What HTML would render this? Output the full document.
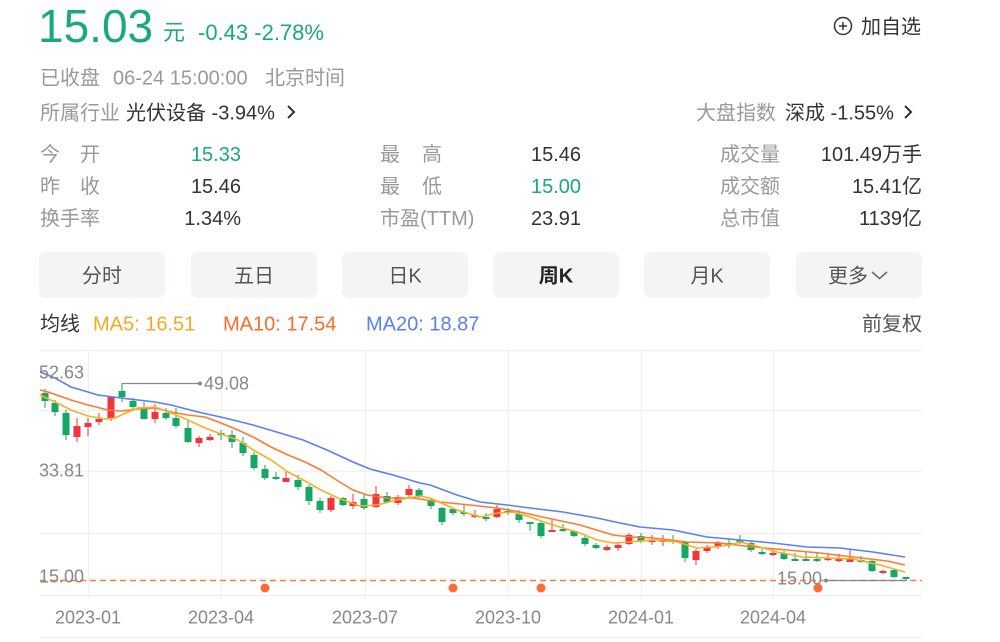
<!DOCTYPE html>
<html><head><meta charset="utf-8"><style>
html,body{margin:0;padding:0;background:#fff;width:1000px;height:642px;overflow:hidden}
svg{position:absolute;left:0;top:0}
text{font-family:"Liberation Sans","Noto Sans CJK SC",sans-serif}
.g{fill:#999}.d{fill:#333}.gr{fill:#19a97b}.ax{fill:#888;font-size:18px}
.b{fill:#555;font-size:20px}
</style></head><body>
<svg width="1000" height="642" viewBox="0 0 1000 642">
<!-- header -->
<text x="38" y="42" font-size="46" class="gr">15.03</text>
<text x="163" y="40" font-size="22" class="gr">元</text>
<text x="198" y="40" font-size="22" class="gr">-0.43 -2.78%</text>
<circle cx="843" cy="26" r="8.5" fill="none" stroke="#333" stroke-width="1.5"/>
<path d="M839 26h8M843 22v8" stroke="#333" stroke-width="1.5"/>
<text x="861" y="33.5" font-size="20" class="d">加自选</text>

<g font-size="20">
<text x="40" y="84.5" class="g">已收盘</text>
<text x="113" y="84.5" class="g">06-24 15:00:00</text>
<text x="265" y="84.5" class="g">北京时间</text>
<text x="40" y="119.5" class="g">所属行业</text>
<text x="126" y="119.5" class="d">光伏设备 -3.94%</text>
<path d="M288 106l6 6-6 6" fill="none" stroke="#333" stroke-width="2"/>
<text x="696" y="119.5" class="g">大盘指数</text>
<text x="785" y="119.5" class="d">深成 -1.55%</text>
<path d="M905 106l6 6-6 6" fill="none" stroke="#333" stroke-width="2"/>

<text x="40" y="161" class="g">今</text><text x="80" y="161" class="g">开</text>
<text x="40" y="193" class="g">昨</text><text x="80" y="193" class="g">收</text>
<text x="40" y="225" class="g">换手率</text>
<text x="241" y="161" class="gr" text-anchor="end">15.33</text>
<text x="241" y="193" class="d" text-anchor="end">15.46</text>
<text x="241" y="225" class="d" text-anchor="end">1.34%</text>

<text x="380" y="161" class="g">最</text><text x="422" y="161" class="g">高</text>
<text x="380" y="193" class="g">最</text><text x="422" y="193" class="g">低</text>
<text x="380" y="225" class="g">市盈(TTM)</text>
<text x="531" y="161" class="d">15.46</text>
<text x="531" y="193" class="gr">15.00</text>
<text x="531" y="225" class="d">23.91</text>

<text x="720" y="161" class="g">成交量</text>
<text x="720" y="193" class="g">成交额</text>
<text x="720" y="225" class="g">总市值</text>
<text x="922" y="161" class="d" text-anchor="end">101.49万手</text>
<text x="922" y="193" class="d" text-anchor="end">15.41亿</text>
<text x="922" y="225" class="d" text-anchor="end">1139亿</text>
</g>

<!-- buttons -->
<g fill="#f3f4f6">
<rect x="39" y="252" width="126" height="46" rx="7"/>
<rect x="191" y="252" width="126" height="46" rx="7"/>
<rect x="342" y="252" width="126" height="46" rx="7"/>
<rect x="493" y="252" width="126" height="46" rx="7"/>
<rect x="644" y="252" width="126" height="46" rx="7"/>
<rect x="796" y="252" width="126" height="46" rx="7"/>
</g>
<g text-anchor="middle">
<text x="102" y="282.5" class="b">分时</text>
<text x="254" y="282.5" class="b">五日</text>
<text x="405" y="282.5" class="b">日K</text>
<text x="556" y="282.5" font-size="20" font-weight="bold" fill="#222">周K</text>
<text x="707" y="282.5" class="b">月K</text>
</g>
<text x="828" y="282.5" class="b">更多</text>
<path d="M872 272l7.5 6.5 7.5-6.5" fill="none" stroke="#666" stroke-width="1.5"/>

<!-- legend -->
<g font-size="20">
<text x="40" y="330.5" fill="#333">均线</text>
<text x="93" y="330.5" fill="#f7a823">MA5: 16.51</text>
<text x="223" y="330.5" fill="#ff6a2a">MA10: 17.54</text>
<text x="366" y="330.5" fill="#5b7ff5">MA20: 18.87</text>
<text x="922" y="330.5" fill="#555" text-anchor="end">前复权</text>
</g>

<!-- grid -->
<g stroke="#f0f0f0" stroke-width="1.2">
<path d="M40 350.5H922M40 410.5H922M40 471.5H922M40 533.5H922M40 595.5H922M40 637.5H922"/>
<path d="M88.5 350V598M221.5 350V598M365.5 350V598M508.5 350V598M641.5 350V598M773.5 350V598"/>
</g>

<!-- candles green -->
<g fill="#14a865">
<rect x="44.5" y="389" width="1" height="19"/><rect x="41.5" y="393" width="7" height="8"/>
<rect x="54.5" y="400" width="1" height="16"/><rect x="51.5" y="403" width="7" height="9"/>
<rect x="65.5" y="410" width="1" height="30"/><rect x="62.5" y="413" width="7" height="22"/>
<rect x="121.5" y="383" width="1" height="19"/><rect x="118.5" y="391" width="7" height="6"/>
<rect x="132.5" y="398" width="1" height="12"/><rect x="129.5" y="401" width="7" height="6"/>
<rect x="143.5" y="402" width="1" height="17"/><rect x="140.5" y="408" width="7" height="11"/>
<rect x="165.5" y="408" width="1" height="12"/><rect x="162.5" y="413" width="7" height="5"/>
<rect x="175.5" y="408" width="1" height="20"/><rect x="172.5" y="418" width="7" height="8"/>
<rect x="187.5" y="420" width="1" height="23"/><rect x="184.5" y="428" width="7" height="14"/>
<rect x="220.5" y="430" width="1" height="10"/><rect x="217.5" y="433" width="7" height="2"/>
<rect x="231.5" y="430" width="1" height="18"/><rect x="228.5" y="435" width="7" height="7"/>
<rect x="242.5" y="437" width="1" height="19"/><rect x="239.5" y="443" width="7" height="10"/>
<rect x="253.5" y="452" width="1" height="18"/><rect x="250.5" y="455" width="7" height="13"/>
<rect x="264.5" y="465" width="1" height="15"/><rect x="261.5" y="469" width="7" height="9"/>
<rect x="275.5" y="472" width="1" height="8"/><rect x="272.5" y="477" width="7" height="2"/>
<rect x="297.5" y="475" width="1" height="15"/><rect x="294.5" y="480" width="7" height="7"/>
<rect x="308.5" y="485" width="1" height="20"/><rect x="305.5" y="487" width="7" height="14"/>
<rect x="319.5" y="498" width="1" height="15"/><rect x="316.5" y="501" width="7" height="9"/>
<rect x="342.5" y="497" width="1" height="9"/><rect x="339.5" y="498" width="7" height="7"/>
<rect x="363.5" y="495" width="1" height="15"/><rect x="360.5" y="499" width="7" height="9"/>
<rect x="386.5" y="492" width="1" height="11"/><rect x="383.5" y="496" width="7" height="6"/>
<rect x="418.5" y="488" width="1" height="10"/><rect x="415.5" y="490" width="7" height="6"/>
<rect x="430.5" y="498" width="1" height="11"/><rect x="427.5" y="501" width="7" height="5"/>
<rect x="441.5" y="507" width="1" height="18"/><rect x="438.5" y="508" width="7" height="14"/>
<rect x="452.5" y="508" width="1" height="7"/><rect x="449.5" y="509" width="7" height="4"/>
<rect x="463.5" y="504" width="1" height="12"/><rect x="460.5" y="512" width="7" height="2"/>
<rect x="485.5" y="513" width="1" height="8"/><rect x="482.5" y="517" width="7" height="2"/>
<rect x="507.5" y="508" width="1" height="7"/><rect x="504.5" y="511" width="7" height="2"/>
<rect x="518.5" y="510" width="1" height="13"/><rect x="515.5" y="514" width="7" height="6"/>
<rect x="529.5" y="522" width="1" height="9"/><rect x="526.5" y="522" width="7" height="2"/>
<rect x="540.5" y="520" width="1" height="18"/><rect x="537.5" y="523" width="7" height="13"/>
<rect x="562.5" y="524" width="1" height="8"/><rect x="559.5" y="529" width="7" height="2"/>
<rect x="573.5" y="530" width="1" height="7"/><rect x="570.5" y="531" width="7" height="5"/>
<rect x="584.5" y="536" width="1" height="10"/><rect x="581.5" y="538" width="7" height="6"/>
<rect x="595.5" y="543" width="1" height="6"/><rect x="592.5" y="545" width="7" height="3"/>
<rect x="640.5" y="533" width="1" height="10"/><rect x="637.5" y="536" width="7" height="5"/>
<rect x="672.5" y="535" width="1" height="9"/><rect x="669.5" y="540" width="7" height="2"/>
<rect x="684.5" y="541" width="1" height="21"/><rect x="681.5" y="542" width="7" height="16"/>
<rect x="728.5" y="538" width="1" height="10"/><rect x="725.5" y="543" width="7" height="2"/>
<rect x="739.5" y="535" width="1" height="9"/><rect x="736.5" y="540" width="7" height="3"/>
<rect x="750.5" y="541" width="1" height="11"/><rect x="747.5" y="543" width="7" height="7"/>
<rect x="761.5" y="549" width="1" height="6"/><rect x="758.5" y="552" width="7" height="2"/>
<rect x="783.5" y="551" width="1" height="9"/><rect x="780.5" y="553" width="7" height="6"/>
<rect x="794.5" y="553" width="1" height="8"/><rect x="791.5" y="559" width="7" height="2"/>
<rect x="805.5" y="552" width="1" height="9"/><rect x="802.5" y="559" width="7" height="2"/>
<rect x="816.5" y="553" width="1" height="9"/><rect x="813.5" y="559" width="7" height="2"/>
<rect x="860.5" y="556" width="1" height="7"/><rect x="857.5" y="560" width="7" height="2"/>
<rect x="871.5" y="559" width="1" height="13"/><rect x="868.5" y="561" width="7" height="10"/>
<rect x="893.5" y="569" width="1" height="9"/><rect x="890.5" y="570" width="7" height="7"/>
<rect x="905.5" y="577" width="1" height="3"/><rect x="902.5" y="577" width="7" height="2"/>
</g>
<!-- candles red -->
<g fill="#f5333b">
<rect x="76.5" y="418" width="1" height="24"/><rect x="73.5" y="426" width="7" height="11"/>
<rect x="87.5" y="418" width="1" height="18"/><rect x="84.5" y="423" width="7" height="4"/>
<rect x="98.5" y="413" width="1" height="12"/><rect x="95.5" y="419" width="7" height="3"/>
<rect x="110.5" y="396" width="1" height="25"/><rect x="107.5" y="397" width="7" height="21"/>
<rect x="154.5" y="404" width="1" height="19"/><rect x="151.5" y="412" width="7" height="7"/>
<rect x="198.5" y="436" width="1" height="11"/><rect x="195.5" y="438" width="7" height="5"/>
<rect x="209.5" y="434" width="1" height="7"/><rect x="206.5" y="437" width="7" height="3"/>
<rect x="285.5" y="472" width="1" height="10"/><rect x="282.5" y="478" width="7" height="4"/>
<rect x="330.5" y="496" width="1" height="16"/><rect x="327.5" y="498" width="7" height="12"/>
<rect x="352.5" y="494" width="1" height="15"/><rect x="349.5" y="502" width="7" height="4"/>
<rect x="375.5" y="486" width="1" height="22"/><rect x="372.5" y="494" width="7" height="13"/>
<rect x="397.5" y="495" width="1" height="10"/><rect x="394.5" y="497" width="7" height="6"/>
<rect x="408.5" y="485" width="1" height="12"/><rect x="405.5" y="489" width="7" height="6"/>
<rect x="474.5" y="510" width="1" height="8"/><rect x="471.5" y="515" width="7" height="2"/>
<rect x="496.5" y="505" width="1" height="13"/><rect x="493.5" y="509" width="7" height="8"/>
<rect x="551.5" y="520" width="1" height="12"/><rect x="548.5" y="530" width="7" height="2"/>
<rect x="606.5" y="545" width="1" height="6"/><rect x="603.5" y="547" width="7" height="3"/>
<rect x="617.5" y="542" width="1" height="9"/><rect x="614.5" y="545" width="7" height="3"/>
<rect x="628.5" y="533" width="1" height="12"/><rect x="625.5" y="535" width="7" height="9"/>
<rect x="651.5" y="535" width="1" height="10"/><rect x="648.5" y="540" width="7" height="2"/>
<rect x="662.5" y="535" width="1" height="11"/><rect x="659.5" y="540" width="7" height="2"/>
<rect x="695.5" y="549" width="1" height="16"/><rect x="692.5" y="551" width="7" height="9"/>
<rect x="706.5" y="545" width="1" height="8"/><rect x="703.5" y="547" width="7" height="4"/>
<rect x="717.5" y="541" width="1" height="8"/><rect x="714.5" y="543" width="7" height="4"/>
<rect x="772.5" y="551" width="1" height="5"/><rect x="769.5" y="553" width="7" height="2"/>
<rect x="827.5" y="553" width="1" height="8"/><rect x="824.5" y="558" width="7" height="2"/>
<rect x="838.5" y="554" width="1" height="8"/><rect x="835.5" y="559" width="7" height="2"/>
<rect x="849.5" y="550" width="1" height="12"/><rect x="846.5" y="558" width="7" height="4"/>
<rect x="882.5" y="570" width="1" height="4"/><rect x="879.5" y="571" width="7" height="2"/>
</g>

<!-- MA lines -->
<g fill="none" stroke-width="1.6" stroke-linejoin="round">
<polyline stroke="#5b7ff5" points="40,372 55,378 71,387 88,392 98,395 121,398 155,402 171,405 198,412 225,418 253,425 280,433 303,440 327,450 353,462 370,469 393,475 420,483 430,485 457,495 480,502 507,505 530,508 563,512 597,518 620,523 640,527 673,530 707,537 740,540 773,543 807,547 840,548 873,552 905,557"/>
<polyline stroke="#ff7a2f" points="40,390 48,392 71,400 88,405 108,410 121,411 138,409 155,408 171,412 188,415 205,417 221,423 238,430 255,438 271,447 288,455 305,462 321,470 338,481 353,490 367,495 387,498 413,498 440,502 470,505 497,508 520,512 547,518 580,525 613,535 630,537 653,538 687,542 720,543 753,547 787,550 820,553 853,557 887,561 905,565"/>
<polyline stroke="#f7b026" points="40,395 55,402 71,410 88,416 105,419 115,418 128,412 138,408 155,407 171,413 188,420 205,428 221,434 238,440 255,451 271,460 288,472 305,481 321,490 338,498 360,506 377,505 397,500 420,496 430,498 457,510 480,517 497,513 513,512 530,517 547,523 563,528 580,533 597,540 613,543 630,542 653,540 677,542 697,548 713,547 730,545 740,542 753,545 777,552 803,557 827,558 853,559 880,565 905,572"/>
</g>

<!-- min line -->
<path d="M40 580.5H922" stroke="#ff7d3b" stroke-width="1.5" stroke-dasharray="6 4"/>
<g fill="#ff6b35">
<circle cx="265" cy="588" r="4.5"/>
<circle cx="453" cy="588" r="4.5"/>
<circle cx="541" cy="588" r="4.5"/>
<circle cx="818" cy="588" r="4.5"/>
</g>

<!-- annotations -->
<path d="M122 383.5H200M826 580.5H907" stroke="#888" stroke-width="1.2"/>
<circle cx="200" cy="383.5" r="2" fill="#888"/>
<circle cx="826" cy="580.5" r="2" fill="#888"/>
<text x="204" y="389.5" class="ax">49.08</text>
<text x="777" y="584.5" class="ax">15.00</text>

<text x="39" y="378.5" class="ax">52.63</text>
<text x="39" y="476.5" class="ax">33.81</text>
<text x="39" y="582.5" class="ax">15.00</text>

<g text-anchor="middle">
<text x="88" y="623.5" class="ax">2023-01</text>
<text x="221" y="623.5" class="ax">2023-04</text>
<text x="365" y="623.5" class="ax">2023-07</text>
<text x="508" y="623.5" class="ax">2023-10</text>
<text x="641" y="623.5" class="ax">2024-01</text>
<text x="773" y="623.5" class="ax">2024-04</text>
</g>
</svg>
</body></html>
